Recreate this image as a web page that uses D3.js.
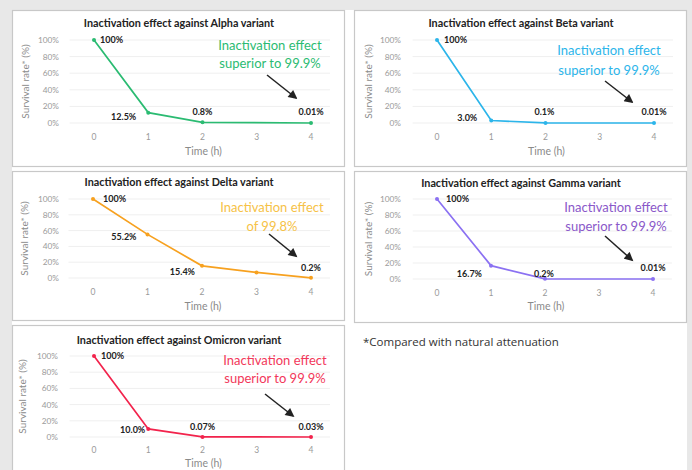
<!DOCTYPE html>
<html>
<head>
<meta charset="utf-8">
<script src="https://cdn.jsdelivr.net/npm/d3@7"></script>
<style>
  html, body { margin: 0; padding: 0; background: #e8e8e8; }
  svg { display: block; }
</style>
</head>
<body>
<svg id="chart" width="692" height="470"></svg>
<script>
// data
const hours = [0, 1, 2, 3, 4];
const yTicks = [0, 20, 40, 60, 80, 100];
const variants = ['Alpha', 'Beta', 'Delta', 'Gamma', 'Omicron'];

const alphaValues = [100, 12.5, 0.8, null, 0.01];
const betaValues = [100, 3.0, 0.1, null, 0.01];
const deltaValues = [100, 55.2, 15.4, 7, 0.2];
const gammaValues = [100, 16.7, 0.2, null, 0.01];
const omicronValues = [100, 10.0, 0.07, null, 0.03];

const alphaLabels = ['100%', '12.5%', '0.8%', null, '0.01%'];
const betaLabels = ['100%', '3.0%', '0.1%', null, '0.01%'];
const deltaLabels = ['100%', '55.2%', '15.4%', null, '0.2%'];
const gammaLabels = ['100%', '16.7%', '0.2%', null, '0.01%'];
const omicronLabels = ['100%', '10.0%', '0.07%', null, '0.03%'];

const annotations = [
  ['Inactivation effect', 'superior to 99.9%'],
  ['Inactivation effect', 'superior to 99.9%'],
  ['Inactivation effect', 'of 99.8%'],
  ['Inactivation effect', 'superior to 99.9%'],
  ['Inactivation effect', 'superior to 99.9%']
];
const footnote = '*Compared with natural attenuation';

// layout of each panel (positions only)
const panels = [
  { values: alphaValues, labels: alphaLabels, line: '#2bbb72', note: '#2bbb72',
    box: [12, 10, 344, 166], x: [94, 311], y: [123, 40], titleY: 27, tickRight: 59, yTitleX: 29,
    xTickY: 140, timeY: 155, noteX: 270, noteY: [50, 68], arrow: [267, 75, 296, 98],
    off: [[6, 3, 'start'], [-12, 7, 'end'], [0, -7, 'middle'], null, [0, -8, 'middle']] },
  { values: betaValues, labels: betaLabels, line: '#2cb5ea', note: '#2cb5ea',
    box: [354, 10, 686, 166], x: [437, 654], y: [123, 40], titleY: 27, tickRight: 401, yTitleX: 372,
    xTickY: 140, timeY: 155, noteX: 609, noteY: [55, 75], arrow: [605, 81, 632, 102],
    off: [[7, 3, 'start'], [-14, 0, 'end'], [-1, -8, 'middle'], null, [0, -8, 'middle']] },
  { values: deltaValues, labels: deltaLabels, line: '#f7a11f', note: '#f6c247',
    box: [12, 171, 344, 320], x: [93, 311], y: [278, 199], titleY: 186, tickRight: 59, yTitleX: 28,
    xTickY: 295, timeY: 310, noteX: 272, noteY: [212, 231], arrow: [269, 234, 296, 256],
    off: [[10, 3, 'start'], [-11, 6, 'end'], [-7, 9, 'end'], null, [0, -7, 'middle']] },
  { values: gammaValues, labels: gammaLabels, line: '#8b71f2', note: '#8a58c9',
    box: [354, 171, 686, 322], x: [437, 653], y: [279, 199], titleY: 187, tickRight: 401, yTitleX: 372,
    xTickY: 296, timeY: 310, noteX: 616, noteY: [212, 231], arrow: [605, 236, 632, 260],
    off: [[9, 3, 'start'], [-9, 11, 'end'], [-1, -2, 'middle'], null, [0, -8, 'middle']] },
  { values: omicronValues, labels: omicronLabels, line: '#f2234c', note: '#f2385a',
    box: [12, 325, 344, 480], x: [94, 311], y: [437, 356], titleY: 344, tickRight: 58, yTitleX: 26,
    xTickY: 453, timeY: 467, noteX: 275, noteY: [365, 383], arrow: [265, 394, 293, 416],
    off: [[7, 3, 'start'], [-3, 4, 'end'], [0, -7, 'middle'], null, [0, -7, 'middle']] }
];

const svg = d3.select('#chart');
const font = 'Lato, "Open Sans", sans-serif';

svg.append('defs').append('marker')
  .attr('id', 'arrowHead')
  .attr('viewBox', '0 0 10 10')
  .attr('refX', 8).attr('refY', 5)
  .attr('markerWidth', 7).attr('markerHeight', 6)
  .attr('orient', 'auto')
  .append('path')
  .attr('d', 'M0,0 L10,5 L0,10 z')
  .attr('fill', '#222');

// white card
svg.append('rect')
  .attr('x', 12).attr('y', 10)
  .attr('width', 675).attr('height', 470)
  .attr('fill', '#fff');

panels.forEach((p, i) => {
  const g = svg.append('g');
  const [bx0, by0, bx1, by1] = p.box;

  g.append('rect')
    .attr('x', bx0 + 0.5).attr('y', by0 + 0.5)
    .attr('width', bx1 - bx0).attr('height', by1 - by0)
    .attr('fill', '#fff')
    .attr('stroke', '#c8c8c8')
    .attr('stroke-width', 1.2);

  const x = d3.scaleLinear().domain([0, 4]).range(p.x);
  const y = d3.scaleLinear().domain([0, 100]).range(p.y);

  // gridlines
  g.selectAll('.grid')
    .data(yTicks)
    .enter().append('line')
    .attr('x1', x(-0.45)).attr('x2', x(4.35))
    .attr('y1', d => y(d)).attr('y2', d => y(d))
    .attr('stroke', '#efefef')
    .attr('stroke-width', 1);

  // y tick labels
  g.selectAll('.ytick')
    .data(yTicks)
    .enter().append('text')
    .attr('x', p.tickRight)
    .attr('y', d => y(d) + 3)
    .attr('text-anchor', 'end')
    .attr('font-family', font)
    .attr('font-size', 8.3)
    .attr('fill', '#9a9a9a')
    .text(d => d + '%');

  // x tick labels
  g.selectAll('.xtick')
    .data(hours)
    .enter().append('text')
    .attr('x', d => x(d))
    .attr('y', p.xTickY)
    .attr('text-anchor', 'middle')
    .attr('font-family', font)
    .attr('font-size', 8.5)
    .attr('fill', '#9a9a9a')
    .text(d => d);

  // titles
  g.append('text')
    .attr('x', (bx0 + bx1) / 2 + 1)
    .attr('y', p.titleY)
    .attr('text-anchor', 'middle')
    .attr('font-family', font)
    .attr('font-weight', 'bold')
    .attr('font-size', 10.8)
    .attr('fill', '#222')
    .text('Inactivation effect against ' + variants[i] + ' variant');

  g.append('text')
    .attr('x', (p.x[0] + p.x[1]) / 2 + 1)
    .attr('y', p.timeY)
    .attr('text-anchor', 'middle')
    .attr('font-family', font)
    .attr('font-size', 10.5)
    .attr('fill', '#8a8a8a')
    .text('Time (h)');

  g.append('text')
    .attr('transform', `translate(${p.yTitleX},${(p.y[0] + p.y[1]) / 2}) rotate(-90)`)
    .attr('text-anchor', 'middle')
    .attr('font-family', font)
    .attr('font-size', 10)
    .attr('fill', '#8a8a8a')
    .text('Survival rate* (%)');

  // series
  const pts = hours.map((h, j) => ({ h: h, v: p.values[j], label: p.labels[j], off: p.off[j] }))
    .filter(d => d.v != null);

  g.append('path')
    .datum(pts)
    .attr('fill', 'none')
    .attr('stroke', p.line)
    .attr('stroke-width', 1.7)
    .attr('d', d3.line().x(d => x(d.h)).y(d => y(d.v)));

  g.selectAll('.dot')
    .data(pts)
    .enter().append('circle')
    .attr('cx', d => x(d.h))
    .attr('cy', d => y(d.v))
    .attr('r', 2)
    .attr('fill', p.line);

  g.selectAll('.lbl')
    .data(pts.filter(d => d.label))
    .enter().append('text')
    .attr('x', d => x(d.h) + d.off[0])
    .attr('y', d => y(d.v) + d.off[1])
    .attr('text-anchor', d => d.off[2])
    .attr('font-family', font)
    .attr('font-weight', 'bold')
    .attr('font-size', 9)
    .attr('fill', '#222')
    .text(d => d.label);

  // annotation
  annotations[i].forEach((t, k) => {
    g.append('text')
      .attr('x', p.noteX)
      .attr('y', p.noteY[k])
      .attr('text-anchor', 'middle')
      .attr('font-family', font)
      .attr('font-size', 13)
      .attr('fill', p.note)
      .text(t);
  });

  g.append('line')
    .attr('x1', p.arrow[0]).attr('y1', p.arrow[1])
    .attr('x2', p.arrow[2]).attr('y2', p.arrow[3])
    .attr('stroke', '#222')
    .attr('stroke-width', 1.5)
    .attr('marker-end', 'url(#arrowHead)');
});

svg.append('text')
  .attr('x', 363)
  .attr('y', 346)
  .attr('font-family', '"Open Sans", sans-serif')
  .attr('font-size', 11.5)
  .attr('fill', '#333')
  .text(footnote);
</script>
</body>
</html>
